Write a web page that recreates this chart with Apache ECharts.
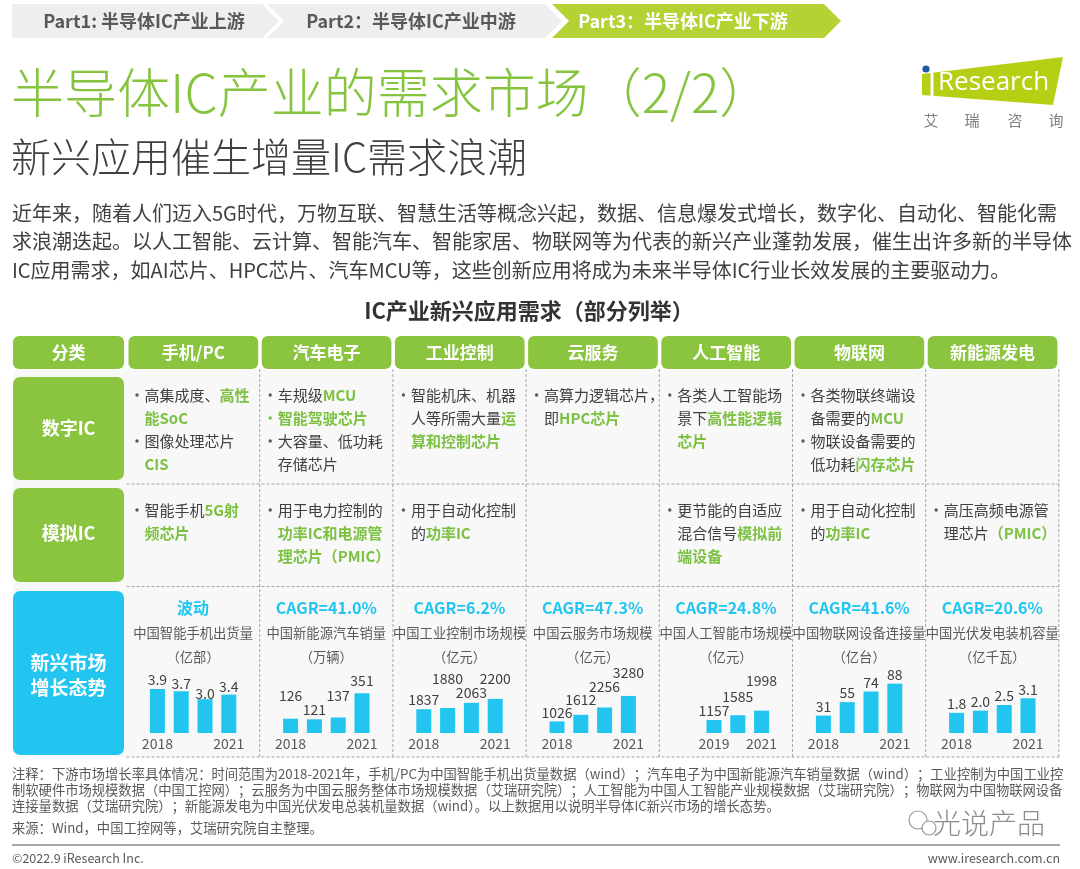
<!DOCTYPE html>
<html><head><meta charset="utf-8">
<script src="https://cdn.jsdelivr.net/npm/echarts@6.0.0/dist/echarts.min.js"></script>
<style>html,body{margin:0;padding:0;background:#fff}#c{width:1080px;height:869px}</style>
</head><body><div id="c"></div>
<script>
// ---------------- DATA ----------------
const years = ['2018', '2019', '2020', '2021'];
const phoneShipments = [3.9, 3.7, 3.0, 3.4];          // 亿部
const nevSales = [126, 121, 137, 351];                 // 万辆
const industrialMarket = [1837, 1880, 2063, 2200];     // 亿元
const cloudMarket = [1026, 1612, 2256, 3280];          // 亿元
const aiMarket = [null, 1157, 1585, 1998];             // 亿元 (2019-2021)
const iotConnections = [31, 55, 74, 88];               // 亿台
const pvCapacity = [1.8, 2.0, 2.5, 3.1];               // 亿千瓦
const applications = ['手机/PC', '汽车电子', '工业控制', '云服务', '人工智能', '物联网', '新能源发电'];
const growthLabels = ['波动', 'CAGR=41.0%', 'CAGR=6.2%', 'CAGR=47.3%', 'CAGR=24.8%', 'CAGR=41.6%', 'CAGR=20.6%'];
const metricNames = ['中国智能手机出货量', '中国新能源汽车销量', '中国工业控制市场规模', '中国云服务市场规模', '中国人工智能市场规模', '中国物联网设备连接量', '中国光伏发电装机容量'];
const metricUnits = ['（亿部）', '（万辆）', '（亿元）', '（亿元）', '（亿元）', '（亿台）', '（亿千瓦）'];
const seriesValues = [phoneShipments, nevSales, industrialMarket, cloudMarket, aiMarket, iotConnections, pvCapacity];
const valueDecimals = [1, 0, 0, 0, 0, 0, 1];

// cell texts: '•' = bullet, {..} = highlighted
const digitalICCells = [
  ['•高集成度、{高性}', '{能SoC}', '•图像处理芯片', '{CIS}'],
  ['•车规级{MCU}', '•{智能驾驶芯片}', '•大容量、低功耗', '存储芯片'],
  ['•智能机床、机器', '人等所需大量{运}', '{算和控制芯片}'],
  ['•高算力逻辑芯片，', '即{HPC芯片}'],
  ['•各类人工智能场', '景下{高性能逻辑}', '{芯片}'],
  ['•各类物联终端设', '备需要的{MCU}', '•物联设备需要的', '低功耗{闪存芯片}'],
  []
];
const analogICCells = [
  ['•智能手机{5G射}', '{频芯片}'],
  ['•用于电力控制的', '{功率IC和电源管}', '{理芯片（PMIC）}'],
  ['•用于自动化控制', '的{功率IC}'],
  [],
  ['•更节能的自适应', '混合信号{模拟前}', '{端设备}'],
  ['•用于自动化控制', '的{功率IC}'],
  ['•高压高频电源管', '理芯片{（PMIC）}']
];
const paragraphLines = [
  '近年来，随着人们迈入5G时代，万物互联、智慧生活等概念兴起，数据、信息爆发式增长，数字化、自动化、智能化需',
  '求浪潮迭起。以人工智能、云计算、智能汽车、智能家居、物联网等为代表的新兴产业蓬勃发展，催生出许多新的半导体',
  'IC应用需求，如AI芯片、HPC芯片、汽车MCU等，这些创新应用将成为未来半导体IC行业长效发展的主要驱动力。'
];
const noteLines = [
  '注释：下游市场增长率具体情况：时间范围为2018-2021年，手机/PC为中国智能手机出货量数据（wind）；汽车电子为中国新能源汽车销量数据（wind）；工业控制为中国工业控',
  '制软硬件市场规模数据（中国工控网）；云服务为中国云服务整体市场规模数据（艾瑞研究院）；人工智能为中国人工智能产业规模数据（艾瑞研究院）；物联网为中国物联网设备',
  '连接量数据（艾瑞研究院）；新能源发电为中国光伏发电总装机量数据（wind）。以上数据用以说明半导体IC新兴市场的增长态势。'
];

// ---------------- LAYOUT / STYLE ----------------
const FF = "'Microsoft YaHei','Noto Sans CJK SC',sans-serif";
const GREEN = '#8bc540', HL = '#7cc142', CYAN = '#21c5ef', TXT = '#404040', GRAY = '#595959';
const sep = [126.5, 259.7, 392.9, 526.1, 659.3, 792.5, 925.7, 1058.9];
const axisMin = [0, 0, 1000, 0, 0, 0, 0];
const axisMax = [5.32, 530, 3113, 5310, 5357, 107, 5.36];
const labelLift = [[0, -1, -4, -1], [13.7, 0.7, 12.7, 3.3], [0.3, 20, 1, 11], [0, 6, 12, 14.3], [0, 0.3, 9.6, 20.7], [0, 0, 0, 0], [0, 0, 0, 0]];

const g = [];
function T(x, y, text, size, color, o) {
  o = o || {};
  const st = {x: x, y: y, text: text, fontSize: size, fill: color, fontFamily: o.family || FF,
    fontWeight: o.weight || (o.bold ? 'bold' : 'normal'), align: o.align || 'left', textAlign: o.align || 'left',
    verticalAlign: 'middle', textVerticalAlign: 'middle'};
  if (o.rich) st.rich = o.rich;
  g.push({type: 'text', silent: true, z: o.z || 10, style: st});
}
function R(x, y, w, h, fill, r, z) {
  g.push({type: 'rect', silent: true, z: z === undefined ? 5 : z, shape: {x: x, y: y, width: w, height: h, r: r || 0}, style: {fill: fill}});
}
function L(x1, y1, x2, y2, stroke, dash, lw) {
  g.push({type: 'line', silent: true, z: 6, shape: {x1: x1, y1: y1, x2: x2, y2: y2}, style: {stroke: stroke, lineWidth: lw || 1, lineDash: dash || null}});
}
function P(points, fill) {
  g.push({type: 'polygon', silent: true, z: 5, shape: {points: points}, style: {fill: fill}});
}

// nav bar
P([[12, 4], [262, 4], [279, 21], [262, 38], [12, 38]], '#eeeeee');
P([[267, 4], [545, 4], [562, 21], [545, 38], [267, 38], [284, 21]], '#eeeeee');
P([[552, 4], [824, 4], [841, 21], [824, 38], [552, 38], [569, 21]], '#b4d234');
T(144, 21, 'Part1: 半导体IC产业上游', 18, GRAY, {bold: true, align: 'center'});
T(411, 21, 'Part2：半导体IC产业中游', 18, GRAY, {bold: true, align: 'center'});
T(683, 21, 'Part3：半导体IC产业下游', 18, '#ffffff', {bold: true, align: 'center'});

// titles
T(11, 93, '半导体IC产业的需求市场（2/2）', 53, '#86c440', {weight: 300});
T(11, 157, '新兴应用催生增量IC需求浪潮', 40, TXT, {weight: 300});

// logo
P([[922, 74], [1063, 57], [1053, 105], [922, 95]], '#b6cf14');
g.push({type: 'circle', silent: true, z: 7, shape: {cx: 926, cy: 69, r: 3.6}, style: {fill: '#1f5aa6'}});
R(930.5, 72, 3, 26, '#ffffff', 0, 6);
T(938, 83, 'Research', 26, '#ffffff', {family: "'Open Sans','Noto Sans',sans-serif"});
['艾', '瑞', '咨', '询'].forEach(function (c, i) { T([931, 972, 1015, 1056][i], 120, c, 15, '#7f7f7f', {align: 'center'}); });

// paragraph
paragraphLines.forEach(function (s, i) { T(12, 213 + i * 28.5, s, 20, TXT); });

// table heading
T(529, 311, 'IC产业新兴应用需求（部分列举）', 22, '#333333', {bold: true, align: 'center'});

// table background & frame
R(13, 370, 1046, 387, '#f8f8f8', 0, -10);
R(13, 336, 111, 33, GREEN, 6);
T(68.5, 353, '分类', 17, '#ffffff', {bold: true, align: 'center'});
applications.forEach(function (a, k) {
  R(sep[k] + 2, 336, sep[k + 1] - sep[k] - 3.5, 33, GREEN, 6);
  T((sep[k] + sep[k + 1]) / 2 + 0.3, 353, a, 17, '#ffffff', {bold: true, align: 'center'});
});
R(13, 377, 111, 103, GREEN, 7);
T(68.5, 428, '数字IC', 18, '#ffffff', {bold: true, align: 'center'});
R(13, 488, 111, 94, GREEN, 7);
T(68.5, 533, '模拟IC', 18, '#ffffff', {bold: true, align: 'center'});
R(13, 591, 111, 164, CYAN, 7);
T(68.5, 663, '新兴市场', 19, '#ffffff', {bold: true, align: 'center'});
T(68.5, 688, '增长态势', 19, '#ffffff', {bold: true, align: 'center'});
for (let k = 1; k < sep.length; k++) L(sep[k], 369, sep[k], 757, '#a6a6a6', [3, 2]);
[484, 586.5, 757].forEach(function (y) { L(126.5, y, 1059, y, '#a6a6a6', [3, 2]); });

// cells
const richStyles = {
  n: {fontSize: 15, fontFamily: FF, fill: TXT, color: TXT},
  h: {fontSize: 15, fontFamily: FF, fill: HL, color: HL, fontWeight: 'bold'}
};
function toRich(s) {
  let out = '', re = /\{([^}]*)\}|([^{]+)/g, m;
  while ((m = re.exec(s)) !== null) out += m[1] !== undefined ? '{h|' + m[1] + '}' : '{n|' + m[2] + '}';
  return out;
}
[[digitalICCells, 395], [analogICCells, 510]].forEach(function (row) {
  row[0].forEach(function (lines, c) {
    lines.forEach(function (line, i) {
      const y = row[1] + i * 23;
      let s = line;
      if (s.charAt(0) === '•') {
        s = s.slice(1);
        g.push({type: 'circle', silent: true, z: 10, shape: {cx: sep[c] + 10.5, cy: y, r: 1.7},
          style: {fill: s.charAt(0) === '{' ? HL : GRAY}});
      }
      T(sep[c] + 18, y, toRich(s), 15, TXT, {rich: richStyles});
    });
  });
});

// growth row texts
growthLabels.forEach(function (lab, c) {
  const cx = (sep[c] + sep[c + 1]) / 2;
  T(cx, 608, lab, 16, CYAN, {bold: true, align: 'center'});
  T(cx, 633, metricNames[c], 13.3, GRAY, {align: 'center'});
  T(cx, 657, metricUnits[c], 13.3, GRAY, {align: 'center'});
});

// notes & footer
noteLines.forEach(function (s, i) { T(12, 774 + i * 16.2, s, 13.3, GRAY); });
T(12, 828, '来源：Wind，中国工控网等，艾瑞研究院自主整理。', 13.3, GRAY);
T(1045, 823, '光说产品', 28, '#8c8c8c', {align: 'right', weight: 300});
g.push({type: 'circle', silent: true, z: 10, shape: {cx: 918, cy: 820, r: 9}, style: {fill: 'none', stroke: '#9a9a9a', lineWidth: 1.2}});
g.push({type: 'circle', silent: true, z: 10, shape: {cx: 929, cy: 828, r: 7}, style: {fill: '#ffffff', stroke: '#9a9a9a', lineWidth: 1.2}});
L(12, 845, 1060, 845, '#a6a6a6', null, 2);
T(12, 858, '©2022.9 iResearch Inc.', 12.5, GRAY);
T(1060, 858, 'www.iresearch.com.cn', 12.5, GRAY, {align: 'right'});

// ---------------- CHARTS ----------------
const grids = [], xAxes = [], yAxes = [], series = [];
seriesValues.forEach(function (vals, i) {
  const cx = (sep[i] + sep[i + 1]) / 2;
  const first = vals.findIndex(function (v) { return v != null; });
  const last = vals.length - 1;
  grids.push({left: cx - 47.6, top: 673, width: 95.2, height: 60, containLabel: false});
  xAxes.push({type: 'category', gridIndex: i, data: years, z: 20, axisLine: {show: false}, axisTick: {show: false},
    axisLabel: {show: true, interval: 0, margin: 4, fontSize: 14, color: GRAY, fontFamily: FF,
      formatter: function (v, idx) { return (idx === first || idx === last) ? v : ''; }}});
  yAxes.push({type: 'value', gridIndex: i, min: axisMin[i], max: axisMax[i], show: false, splitLine: {show: false}});
  series.push({type: 'bar', xAxisIndex: i, yAxisIndex: i, barWidth: 15, silent: true, z: 20,
    itemStyle: {color: CYAN},
    label: {show: true, position: 'top', distance: 2, fontSize: 14, color: TXT, fontFamily: FF,
      formatter: function (p) { return Number(p.value).toFixed(valueDecimals[i]); }},
    data: vals.map(function (v, j) { return v == null ? '-' : {value: v, label: {offset: [0, -labelLift[i][j]]}}; })
  });
});

const chart = echarts.init(document.getElementById('c'), null, {renderer: 'canvas'});
chart.setOption({
  animation: false,
  textStyle: {fontFamily: FF},
  grid: grids, xAxis: xAxes, yAxis: yAxes, series: series,
  graphic: {elements: g}
});
</script></body></html>
